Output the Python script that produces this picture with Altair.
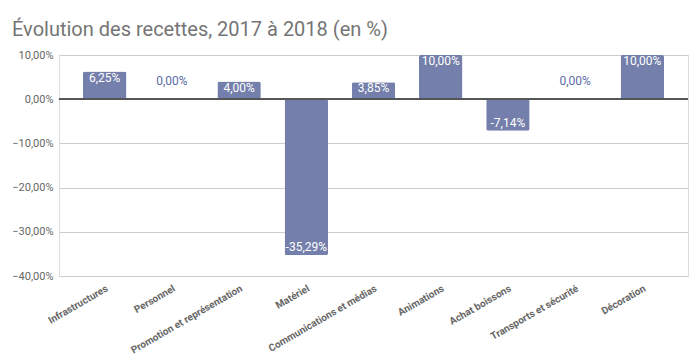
import altair as alt
import pandas as pd

categories = ["Infrastructures", "Personnel", "Promotion et représentation", "Matériel",
              "Communications et médias", "Animations", "Achat boissons",
              "Transports et sécurité", "Décoration"]
values = [6.25, 0.00, 4.00, -35.29, 3.85, 10.00, -7.14, 0.00, 10.00]

df = pd.DataFrame({"cat": categories, "val": values})
df["label"] = [f"{v:.2f}".replace(".", ",") + "%" for v in values]

FONT = "Roboto"
BAR = "#7480ab"

x = alt.X("cat:N", sort=categories, title=None,
          scale=alt.Scale(paddingInner=0.354, paddingOuter=0.357),
          axis=alt.Axis(labelAngle=-30, labelAlign="right", labelBaseline="top",
                        labelPadding=7, labelFontSize=10, labelFontWeight="bold",
                        labelColor="#666666", labelFont=FONT, ticks=False, domain=False,
                        grid=False, labelLimit=300))
y = alt.Y("val:Q", title=None,
          scale=alt.Scale(domain=[-40, 10], nice=False),
          axis=alt.Axis(values=[-40, -30, -20, -10, 0, 10],
                        labelExpr="replace(format(datum.value, '.2f'), '.', ',') + '%'",
                        labelFontSize=11, labelColor="#666666", labelFont=FONT,
                        labelPadding=6, ticks=False, domain=False,
                        gridColor="#cccccc", gridWidth=1))

base = alt.Chart(df)

bars = base.mark_bar(color=BAR, cornerRadius=2).encode(x=x, y=y)

zero = base.mark_rule(color="#555555", strokeWidth=1).encode(y=alt.datum(0))

pos = base.transform_filter("datum.val > 0").mark_text(
    baseline="top", dy=1, color="white", fontSize=12, font=FONT
).encode(x=alt.X("cat:N", sort=categories), y="val:Q", text="label:N")

neg = base.transform_filter("datum.val < 0").mark_text(
    baseline="bottom", dy=-1, color="white", fontSize=12, font=FONT
).encode(x=alt.X("cat:N", sort=categories), y="val:Q", text="label:N")

zer = base.transform_filter("datum.val == 0").mark_text(
    baseline="middle", dy=-18, color="#5b6aa6", fontSize=12, font=FONT
).encode(x=alt.X("cat:N", sort=categories), y="val:Q", text="label:N")

chart = alt.layer(bars, zero, pos, neg, zer).properties(
    width=629, height=221,
    autosize=alt.AutoSizeParams(type="none"),
    padding={"left": 51, "top": 47, "right": 4, "bottom": 84},
    title=alt.TitleParams("Évolution des recettes, 2017 à 2018 (en %)",
                          anchor="start", frame="group", dx=-47, offset=9,
                          fontSize=20, font=FONT, fontWeight="normal",
                          color="#757575"),
).configure_view(stroke=None).configure(background="white")

chart.save("out.html", embed_options={"renderer": "svg", "actions": False})
